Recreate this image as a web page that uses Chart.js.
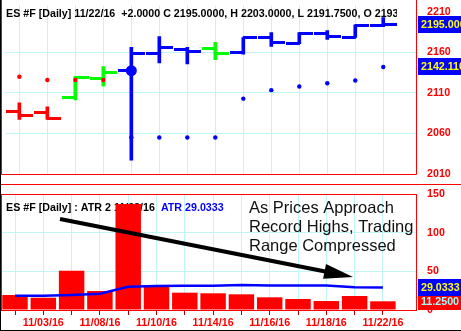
<!DOCTYPE html>
<html>
<head>
<meta charset="utf-8">
<title>ES #F Daily - ATR</title>
<script src="https://cdn.jsdelivr.net/npm/chart.js@4.4.1/dist/chart.umd.min.js"></script>
<style>
  html, body { margin: 0; padding: 0; background: #fff; }
  #wrap { position: relative; width: 461px; height: 331px; overflow: hidden; background: #fff; }
  #priceChart { position: absolute; left: 0; top: 0; }
  #atrChart { position: absolute; left: 0; top: 180px; }
  #frame { position: absolute; left: 0; top: 0; width: 461px; height: 331px; box-sizing: border-box;
           border-left: 1px solid #000; border-bottom: 1px solid #000; pointer-events: none; }
</style>
</head>
<body>
<div id="wrap">
  <canvas id="priceChart" width="461" height="180"></canvas>
  <canvas id="atrChart" width="461" height="151"></canvas>
  <div id="frame"></div>
</div>
<script>
// ES #F daily bars, 14 sessions up to 11/22/16, with stop dots and ATR panel

const dates = ['11/02/16', '11/03/16', '11/04/16', '11/08/16', '11/09/16', '11/10/16', '11/11/16',
               '11/14/16', '11/15/16', '11/16/16', '11/17/16', '11/18/16', '11/21/16', '11/22/16'];

const opens  = [2087, 2086, 2105, 2128, 2137.5, 2159, 2164, 2165, 2160.5, 2178.5, 2171, 2183, 2178.5, 2193];
const highs  = [2098, 2093, 2130.5, 2142.5, 2166.5, 2179.5, 2166.5, 2172.5, 2178.5, 2184.5, 2184.5, 2187, 2194, 2203];
const lows   = [2077.5, 2077.5, 2101.5, 2118.5, 2027, 2147, 2146, 2151, 2158, 2167.5, 2171, 2176, 2178.5, 2191.75];
const closes = [2082.5, 2079, 2129, 2135, 2159, 2166.5, 2161.5, 2159, 2178.5, 2172.5, 2183, 2179.5, 2193, 2195];
const barColors = ['red', 'red', 'green', 'green', 'blue', 'blue', 'blue', 'green',
                   'blue', 'blue', 'blue', 'blue', 'blue', 'blue'];

const stops = [2130, 2126, 2126, 2126, 2055, 2055, 2055, 2055, 2103, 2113.5, 2118, 2122, 2125.5, 2142.11];
const stopColors = ['red', 'red', 'red', 'red', 'blue', 'blue', 'blue', 'blue',
                    'blue', 'blue', 'blue', 'blue', 'blue', 'blue'];

const markerIndex = [4];
const markerPrice = [2137.5];

const priceTicks = [2010, 2060, 2110, 2160, 2210];

const ranges = [19.4, 15.9, 50.8, 24.6, 137, 32.3, 22.4, 21.6, 20.3, 16.4, 14.2, 11.6, 18.1, 11.25];
const atr    = [18.5, 18.5, 19.5, 21, 30, 31, 31.5, 31.5, 32.3, 31.8, 31.8, 31.8, 29.3, 29.0333];
const atrTicks = [0, 50, 100, 150];

const noteLines = ['As Prices Approach', 'Record Highs, Trading', 'Range Compressed'];

// ---- look ----
const FAM = '"Liberation Sans", Arial, sans-serif';
const COL = { red: '#ff0000', green: '#00ff00', blue: '#0000ff' };
const GRID = 'rgb(192,246,246)';
const X_MIN = -0.495, X_MAX = 14.205;
const last = dates.length - 1;

// open / close ticks as point images (left half / right half)
function tickImage(color, side) {
  const c = document.createElement('canvas');
  c.width = 27; c.height = 3;
  const g = c.getContext('2d');
  g.fillStyle = COL[color];
  if (side === 'open') g.fillRect(0, 0, 14, 3); else g.fillRect(13, 0, 14, 3);
  return c;
}
const openImg = {}, closeImg = {};
Object.keys(COL).forEach(k => { openImg[k] = tickImage(k, 'open'); closeImg[k] = tickImage(k, 'close'); });

function valueBox(ctx, y, text, bg, fg) {
  ctx.fillStyle = bg;
  ctx.fillRect(418, Math.round(y - 8.5), 43, 17);
  ctx.fillStyle = fg;
  ctx.font = 'bold 10.7px ' + FAM;
  ctx.textAlign = 'left';
  ctx.textBaseline = 'middle';
  ctx.fillText(text, 421, y + 0.5);
}

function fixedWidth(w) {
  return s => { s.width = w; s.paddingTop = 0; s.paddingBottom = 0; };
}
const indexTicks = s => { s.ticks = dates.map((d, i) => ({ value: i })); };
const plainNum = v => String(v);

// ---- price panel ----
const priceDecor = {
  id: 'priceDecor',
  beforeDatasetsDraw(chart) {
    const ctx = chart.ctx;
    const chg = closes[last] - closes[last - 1];
    const header = 'ES #F [Daily] ' + dates[last] + '  ' + (chg >= 0 ? '+' : '') + chg.toFixed(4) +
      ' C ' + closes[last].toFixed(4) + ', H ' + highs[last].toFixed(4) +
      ', L ' + lows[last].toFixed(4) + ', O ' + opens[last].toFixed(4);
    ctx.save();
    ctx.beginPath(); ctx.rect(0, 0, 397, 30); ctx.clip();
    ctx.font = 'bold 10.7px ' + FAM;
    ctx.fillStyle = '#000';
    ctx.textBaseline = 'alphabetic';
    ctx.fillText(header, 6, 16.5);
    ctx.restore();
  },
  afterDraw(chart) {
    const { ctx, chartArea: a, scales: { y } } = chart;
    ctx.save();
    ctx.strokeStyle = '#ff0000';
    ctx.lineWidth = 1;
    ctx.beginPath();
    ctx.moveTo(1.5, 0);
    ctx.lineTo(1.5, Math.round(a.bottom) + 0.5);
    ctx.lineTo(Math.round(a.right) - 0.5, Math.round(a.bottom) + 0.5);
    ctx.lineTo(Math.round(a.right) - 0.5, 0);
    ctx.stroke();
    valueBox(ctx, y.getPixelForValue(closes[last]), closes[last].toFixed(4), '#0000ff', '#ffff00');
    valueBox(ctx, y.getPixelForValue(stops[last]), stops[last].toFixed(4), '#0000ff', '#ffff00');
    ctx.restore();
  }
};

new Chart(document.getElementById('priceChart'), {
  type: 'bar',
  data: {
    datasets: [
      {
        type: 'scatter',
        data: markerIndex.map((i, k) => ({ x: i, y: markerPrice[k] })),
        pointRadius: 5.5,
        pointBackgroundColor: COL.blue,
        pointBorderWidth: 0,
        order: 0
      },
      {
        type: 'scatter',
        data: stops.map((v, i) => ({ x: i, y: v })),
        pointRadius: 2.2,
        pointBackgroundColor: stopColors.map(c => COL[c]),
        pointBorderWidth: 0,
        order: 1
      },
      {
        type: 'scatter',
        data: opens.map((v, i) => ({ x: i, y: v })),
        pointStyle: barColors.map(c => openImg[c]),
        pointRadius: 3,
        order: 2
      },
      {
        type: 'scatter',
        data: closes.map((v, i) => ({ x: i, y: v })),
        pointStyle: barColors.map(c => closeImg[c]),
        pointRadius: 3,
        order: 2
      },
      {
        type: 'bar',
        data: highs.map((h, i) => ({ x: i, y: [lows[i], h] })),
        backgroundColor: barColors.map(c => COL[c]),
        barThickness: 3,
        order: 3
      }
    ]
  },
  options: {
    responsive: false,
    animation: false,
    events: [],
    layout: { padding: { left: 1, top: 0, right: 0, bottom: 6 } },
    plugins: { legend: { display: false }, tooltip: { enabled: false } },
    scales: {
      x: {
        type: 'linear', min: X_MIN, max: X_MAX, offset: false,
        afterBuildTicks: indexTicks,
        afterFit: s => { s.height = 0; s.paddingLeft = 0; s.paddingRight = 0; },
        grid: { color: GRID, offset: false, drawTicks: false },
        border: { display: false },
        ticks: { display: false }
      },
      y: {
        position: 'right', min: 2010, max: 2218,
        afterBuildTicks: s => { s.ticks = priceTicks.map(v => ({ value: v })); },
        afterFit: fixedWidth(44),
        grid: {
          drawTicks: false,
          color: c => (c.tick && (c.tick.value === 2010 || c.tick.value === 2210)) ? 'rgba(0,0,0,0)' : GRID
        },
        border: { display: false },
        ticks: { color: '#ff0000', padding: 10, callback: plainNum,
                 font: { family: FAM, size: 10.7, weight: 'bold' } }
      }
    }
  },
  plugins: [priceDecor]
});

// ---- ATR panel ----
function drawArrow(ctx, x1, y1, x2, y2) {
  const ang = Math.atan2(y2 - y1, x2 - x1);
  const hl = 29, hw = 7.5;
  const bx = x2 - hl * Math.cos(ang), by = y2 - hl * Math.sin(ang);
  ctx.strokeStyle = '#000';
  ctx.lineWidth = 4;
  ctx.beginPath(); ctx.moveTo(x1, y1); ctx.lineTo(bx + 2 * Math.cos(ang), by + 2 * Math.sin(ang)); ctx.stroke();
  ctx.fillStyle = '#000';
  ctx.beginPath();
  ctx.moveTo(x2, y2);
  ctx.lineTo(bx + hw * Math.sin(ang), by - hw * Math.cos(ang));
  ctx.lineTo(bx - hw * Math.sin(ang), by + hw * Math.cos(ang));
  ctx.closePath();
  ctx.fill();
}

const atrDecor = {
  id: 'atrDecor',
  beforeDatasetsDraw(chart) {
    const ctx = chart.ctx;
    const head = 'ES #F [Daily] : ATR 2 ' + dates[last];
    ctx.save();
    ctx.font = 'bold 10.7px ' + FAM;
    ctx.textBaseline = 'alphabetic';
    ctx.fillStyle = '#000';
    ctx.fillText(head, 6, 31);
    const w = ctx.measureText(head).width;
    ctx.fillStyle = '#0000ff';
    ctx.fillText('ATR ' + atr[last].toFixed(4), 6 + w + 6, 31);
    ctx.restore();
  },
  afterDatasetsDraw(chart) {
    const ctx = chart.ctx;
    ctx.save();
    drawArrow(ctx, 60, 39, 353, 97);
    ctx.fillStyle = '#111';
    ctx.font = '16.5px ' + FAM;
    ctx.textBaseline = 'alphabetic';
    noteLines.forEach((t, i) => ctx.fillText(t, 249, 33 + i * 19));
    ctx.restore();
  },
  afterDraw(chart) {
    const { ctx, chartArea: a, scales: { y } } = chart;
    ctx.save();
    ctx.strokeStyle = '#ff0000';
    ctx.lineWidth = 1;
    ctx.beginPath();
    ctx.moveTo(0, 4.5); ctx.lineTo(461, 4.5);
    ctx.stroke();
    ctx.strokeRect(1.5, Math.round(a.top) + 0.5, Math.round(a.right) - 2, Math.round(a.bottom - a.top));
    valueBox(ctx, y.getPixelForValue(ranges[last]), ranges[last].toFixed(4), '#ff0000', '#a0ffff');
    valueBox(ctx, y.getPixelForValue(atr[last]), atr[last].toFixed(4), '#0000ff', '#ffff00');
    ctx.restore();
  }
};

new Chart(document.getElementById('atrChart'), {
  type: 'bar',
  data: {
    datasets: [
      {
        type: 'line',
        data: atr.map((v, i) => ({ x: i, y: v })),
        borderColor: '#0000ff',
        borderWidth: 2.5,
        pointRadius: 0,
        tension: 0,
        order: 0
      },
      {
        type: 'bar',
        data: ranges.map((v, i) => ({ x: i, y: v })),
        backgroundColor: '#ff0000',
        categoryPercentage: 1,
        barPercentage: 0.9,
        order: 1
      }
    ]
  },
  options: {
    responsive: false,
    animation: false,
    events: [],
    layout: { padding: { left: 1, top: 14, right: 0, bottom: 0 } },
    plugins: { legend: { display: false }, tooltip: { enabled: false } },
    scales: {
      x: {
        type: 'linear', min: X_MIN, max: X_MAX, offset: false,
        afterBuildTicks: indexTicks,
        afterFit: s => { s.height = 21; s.paddingLeft = 0; s.paddingRight = 0; },
        grid: { color: GRID, offset: false, tickLength: 5, tickColor: '#b00000' },
        border: { display: false },
        ticks: {
          autoSkip: false, maxRotation: 0, padding: 2, color: '#ff0000',
          font: { family: FAM, size: 10.7, weight: 'bold' },
          callback: v => (v % 2 === 1 ? dates[v] : '')
        }
      },
      y: {
        position: 'right', min: 0, max: 150,
        afterBuildTicks: s => { s.ticks = atrTicks.map(v => ({ value: v })); },
        afterFit: fixedWidth(44),
        grid: {
          drawTicks: false,
          color: c => (c.tick && (c.tick.value === 0 || c.tick.value === 150)) ? 'rgba(0,0,0,0)' : GRID
        },
        border: { display: false },
        ticks: { color: '#ff0000', padding: 10, callback: plainNum,
                 font: { family: FAM, size: 10.7, weight: 'bold' } }
      }
    }
  },
  plugins: [atrDecor]
});
</script>
</body>
</html>
